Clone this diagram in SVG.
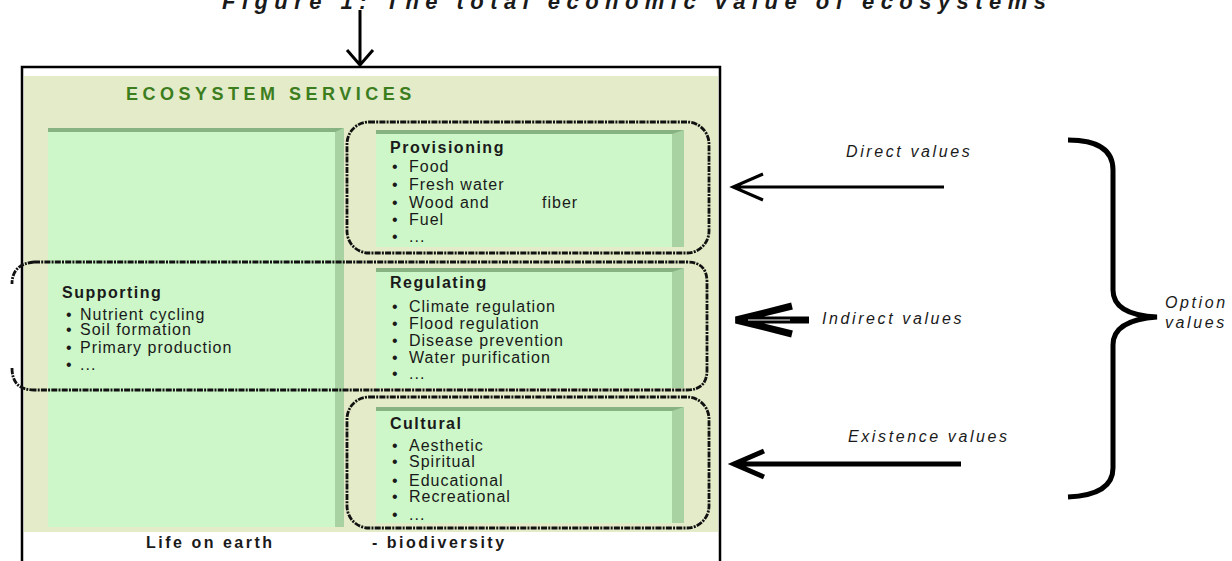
<svg xmlns="http://www.w3.org/2000/svg" width="1232" height="561" viewBox="0 0 1232 561">
<style>
.t{font-family:"Liberation Sans",Arial,sans-serif;fill:#1a1a1a}
.body{font-size:16px;letter-spacing:1px}
.head{font-size:16px;font-weight:bold;letter-spacing:1.5px}
.val{font-size:16px;font-style:italic;letter-spacing:2.6px}
.panel{fill:#cdf7c9}
.bevtop{fill:#86b381}
.bevside{fill:#a9d2a2}
.dash{fill:none;stroke:#111;stroke-width:2.8;stroke-dasharray:6 1.2 2 1.2}
.arr{fill:none;stroke:#000;stroke-linecap:butt;stroke-linejoin:miter}
</style>
<rect width="1232" height="561" fill="#fff"/>
<text class="t" x="222" y="9" font-size="22" font-weight="bold" font-style="italic" textLength="824" lengthAdjust="spacing">Figure 1: The total economic value of ecosystems</text>

<g id="frame">
<rect x="22" y="67" width="698" height="520" fill="#fff" stroke="#000" stroke-width="2.5"/>
<rect x="24" y="76" width="694" height="456" fill="#e3ebc8"/>
<text class="t" x="126" y="100" font-size="18" font-weight="bold" letter-spacing="4.5" style="fill:#3c7d1e">ECOSYSTEM SERVICES</text>
</g>

<g id="supporting">
<rect class="panel" x="48" y="128" width="296" height="399"/>
<polygon class="bevtop" points="48,128 344,128 341,132 48,132"/>
<polygon class="bevside" points="335,132 344,128 344,527 335,527"/>
<text class="t head" x="62" y="298">Supporting</text>
<g class="t body">
<text x="66" y="320">•</text><text x="80" y="320">Nutrient cycling</text>
<text x="66" y="335">•</text><text x="80" y="335">Soil formation</text>
<text x="66" y="353">•</text><text x="80" y="353">Primary production</text>
<text x="66" y="370">•</text><text x="80" y="370">...</text>
</g>
</g>

<g id="provisioning">
<rect class="panel" x="376" y="130" width="308" height="117"/>
<polygon class="bevtop" points="376,130 684,130 681,134 376,134"/>
<polygon class="bevside" points="672,134 684,130 684,247 672,247"/>
<text class="t head" x="390" y="153">Provisioning</text>
<g class="t body">
<text x="392" y="172">•</text><text x="409" y="172">Food</text>
<text x="392" y="190">•</text><text x="409" y="190">Fresh water</text>
<text x="392" y="208">•</text><text x="409" y="208">Wood and</text><text x="542" y="208">fiber</text>
<text x="392" y="225">•</text><text x="409" y="225">Fuel</text>
<text x="392" y="242">•</text><text x="409" y="242">...</text>
</g>
<rect class="dash" x="347" y="122" width="362" height="131" rx="22"/>
</g>

<g id="regulating">
<rect class="panel" x="376" y="268" width="308" height="120"/>
<polygon class="bevtop" points="376,268 684,268 681,272 376,272"/>
<polygon class="bevside" points="672,272 684,268 684,388 672,388"/>
<text class="t head" x="390" y="288">Regulating</text>
<g class="t body">
<text x="392" y="312">•</text><text x="409" y="312">Climate regulation</text>
<text x="392" y="329">•</text><text x="409" y="329">Flood regulation</text>
<text x="392" y="346">•</text><text x="409" y="346">Disease prevention</text>
<text x="392" y="363">•</text><text x="409" y="363">Water purification</text>
<text x="392" y="379">•</text><text x="409" y="379">...</text>
</g>
</g>

<g id="cultural">
<rect class="panel" x="376" y="407" width="308" height="116"/>
<polygon class="bevtop" points="376,407 684,407 681,411 376,411"/>
<polygon class="bevside" points="672,411 684,407 684,523 672,523"/>
<text class="t head" x="390" y="429">Cultural</text>
<g class="t body">
<text x="392" y="451">•</text><text x="409" y="451">Aesthetic</text>
<text x="392" y="467">•</text><text x="409" y="467">Spiritual</text>
<text x="392" y="486">•</text><text x="409" y="486">Educational</text>
<text x="392" y="502">•</text><text x="409" y="502">Recreational</text>
<text x="392" y="520">•</text><text x="409" y="520">...</text>
</g>
<rect class="dash" x="347" y="397" width="362" height="131" rx="22"/>
</g>

<g id="indirect-group">
<path class="dash" d="M34 262 L687 262 Q707 262 707 282 L707 370 Q707 390 687 390 L34 390 M34 262 Q12 264 12 284 M12 368 Q12 390 34 390"/>
</g>

<g id="footer">
<text class="t" x="146" y="548" font-size="16" font-weight="bold" letter-spacing="2.5">Life on earth</text>
<text class="t" x="372" y="548" font-size="16" font-weight="bold" letter-spacing="2.5">- biodiversity</text>
</g>

<g id="labels">
<text class="t val" x="846" y="157">Direct values</text>
<text class="t val" x="822" y="324">Indirect values</text>
<text class="t val" x="848" y="442">Existence values</text>
<text class="t val" x="1165" y="308">Option</text>
<text class="t val" x="1165" y="328">values</text>
</g>

<g id="connectors">
<path class="arr" stroke-width="3" d="M360 10 L360 64 M347 50 L360 65 L373 50"/>
<path class="arr" stroke-width="3" d="M944 187 L733 187 M763 174 L733 187 L763 200"/>
<path class="arr" stroke-width="7" d="M809 320 L736 320 M792 306 L736 320 L792 334"/>
<path stroke="#fff" stroke-width="1.2" fill="none" d="M790 320 L748 320"/>
<path class="arr" stroke-width="5" d="M961 464 L734 464 M764 451 L734 464 L764 477"/>
<path class="arr" stroke-width="5" stroke-linecap="round" d="M1068 140 Q1113 140 1113 170 L1113 290 Q1113 315 1157 317 Q1113 320 1113 345 L1113 468 Q1113 495 1068 497"/>
</g>
</svg>
